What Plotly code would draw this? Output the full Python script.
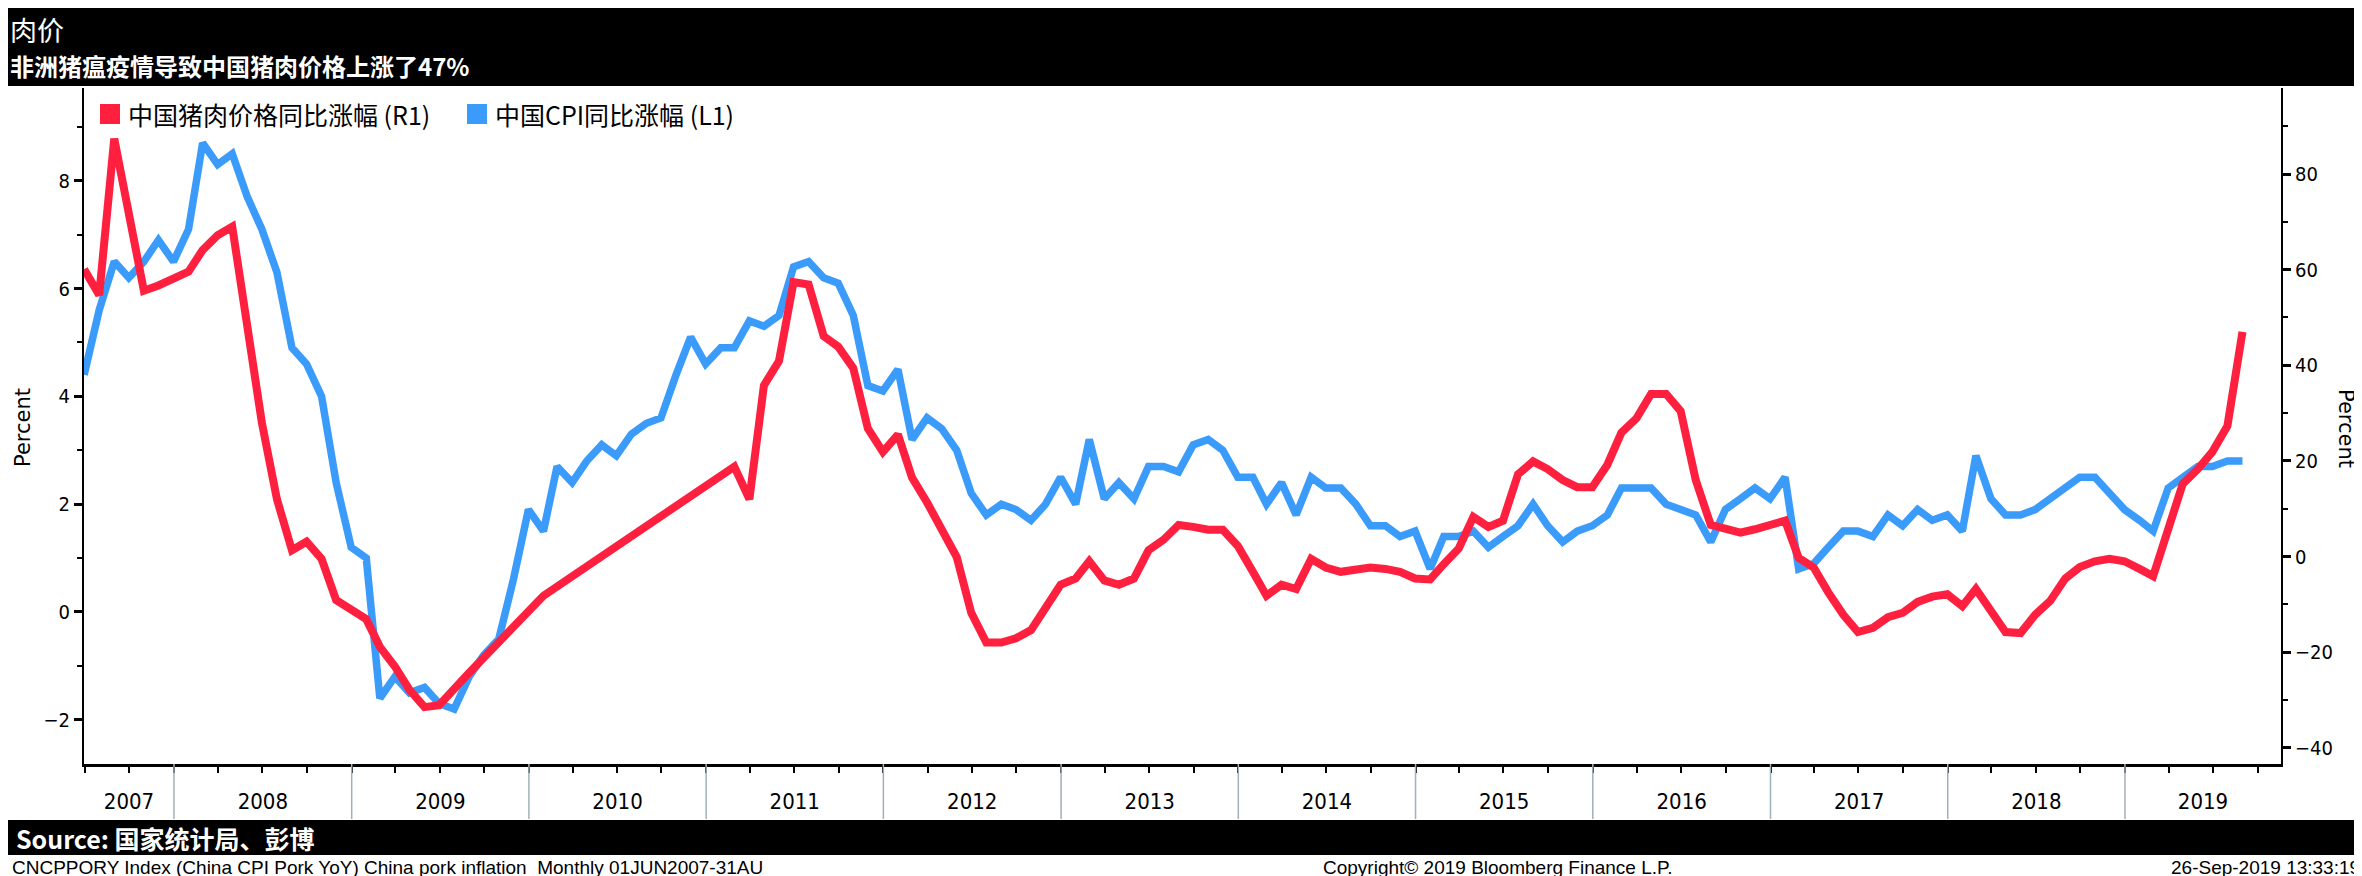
import pandas as pd
import plotly.graph_objects as go

# ---------------- data ----------------
first_month = "2007-06-01"
n_months = 147  # Jun 2007 .. Aug 2019

cpi_2007 = [4.4, 5.6, 6.5, 6.2, 6.5, 6.9, 6.5]
cpi_2008 = [7.1, 8.7, 8.3, 8.5, 7.7, 7.1, 6.3, 4.9, 4.6, 4.0, 2.4, 1.2]
cpi_2009 = [1.0, -1.6, -1.2, -1.5, -1.4, -1.7, -1.8, -1.2, -0.8, -0.5, 0.6, 1.9]
cpi_2010 = [1.5, 2.7, 2.4, 2.8, 3.1, 2.9, 3.3, 3.5, 3.6, 4.4, 5.1, 4.6]
cpi_2011 = [4.9, 4.9, 5.4, 5.3, 5.5, 6.4, 6.5, 6.2, 6.1, 5.5, 4.2, 4.1]
cpi_2012 = [4.5, 3.2, 3.6, 3.4, 3.0, 2.2, 1.8, 2.0, 1.9, 1.7, 2.0, 2.5]
cpi_2013 = [2.0, 3.2, 2.1, 2.4, 2.1, 2.7, 2.7, 2.6, 3.1, 3.2, 3.0, 2.5]
cpi_2014 = [2.5, 2.0, 2.4, 1.8, 2.5, 2.3, 2.3, 2.0, 1.6, 1.6, 1.4, 1.5]
cpi_2015 = [0.8, 1.4, 1.4, 1.5, 1.2, 1.4, 1.6, 2.0, 1.6, 1.3, 1.5, 1.6]
cpi_2016 = [1.8, 2.3, 2.3, 2.3, 2.0, 1.9, 1.8, 1.3, 1.9, 2.1, 2.3, 2.1]
cpi_2017 = [2.5, 0.8, 0.9, 1.2, 1.5, 1.5, 1.4, 1.8, 1.6, 1.9, 1.7, 1.8]
cpi_2018 = [1.5, 2.9, 2.1, 1.8, 1.8, 1.9, 2.1, 2.3, 2.5, 2.5, 2.2, 1.9]
cpi_2019 = [1.7, 1.5, 2.3, 2.5, 2.7, 2.7, 2.8, 2.8]

pork_2007 = [60.1, 54.7, 87.4, 71.0, 55.6, 56.7, 58.0]
pork_2008 = [59.6, 64.1, 67.2, 69.0, 48.0, 28.0, 12.0, 1.3, 3.1, -0.5, -9.1, -11.0]
pork_2009 = [-13.1, -18.9, -23.0, -27.9, -31.5, -31.1, -27.9, -24.3, None, None, None, None]
pork_2010 = [-8.2, None, None, None, None, None, None, None, None, None, None, None]
pork_2011 = [None, 18.8, 12.0, 35.8, 40.9, 57.4, 56.9, 46.1, 43.9, 39.4, 26.8, 21.9]
pork_2012 = [25.5, 16.5, 11.3, 6.0, -0.1, -11.8, -18.0, -18.0, -17.1, -15.4, -10.9, -5.9]
pork_2013 = [-4.6, -1.0, -5.0, -5.9, -4.6, 1.3, 3.5, 6.6, 6.2, 5.6, 5.6, 2.2]
pork_2014 = [-3.2, -8.2, -5.9, -6.8, -0.5, -2.3, -3.2, -2.8, -2.3, -2.6, -3.2, -4.6]
pork_2015 = [-4.8, -1.6, 1.7, 8.3, 6.2, 7.5, 17.2, 19.9, 18.3, 16.0, 14.5, 14.5]
pork_2016 = [19.2, 25.9, 28.9, 34.0, 34.0, 30.4, 16.0, 6.6, 5.9, 5.0, 5.7, 6.6]
pork_2017 = [7.5, -0.3, -2.3, -7.5, -12.2, -15.8, -14.9, -12.7, -11.8, -9.5, -8.4, -7.9]
pork_2018 = [-10.4, -6.8, -11.3, -15.8, -16.0, -12.2, -9.3, -4.6, -2.2, -1.0, -0.5, -1.0]
pork_2019 = [-2.6, -4.1, 5.7, 15.2, 18.3, 21.9, 27.3, 47.0]

cpi_yoy = (cpi_2007 + cpi_2008 + cpi_2009 + cpi_2010 + cpi_2011 + cpi_2012 + cpi_2013
           + cpi_2014 + cpi_2015 + cpi_2016 + cpi_2017 + cpi_2018 + cpi_2019)
pork_yoy = (pork_2007 + pork_2008 + pork_2009 + pork_2010 + pork_2011 + pork_2012 + pork_2013
            + pork_2014 + pork_2015 + pork_2016 + pork_2017 + pork_2018 + pork_2019)

pork_name = "中国猪肉价格同比涨幅 (R1)"
cpi_name = "中国CPI同比涨幅 (L1)"
year_labels = [str(y) for y in range(2007, 2020)]
left_range = [-2.82, 9.72]
right_range = [-43.4, 98.0]
x_range = ["2007-06-29 17:00", "2019-11-18 08:00"]

title_text = "肉价"
subtitle_text = "非洲猪瘟疫情导致中国猪肉价格上涨了47%"
source_text = "Source: 国家统计局、彭博"
footer_left = "CNCPPORY Index (China CPI Pork YoY) China pork inflation  Monthly 01JUN2007-31AU"
footer_mid = "Copyright© 2019 Bloomberg Finance L.P."
footer_right = "26-Sep-2019 13:33:19"

# ---------------- styling ----------------
W, H = 2362, 876
L, R, T, B = 76, 89, 80, 120
PW, PH = W - L - R, H - T - B
RED = "#FF1F3F"
BLUE = "#3A9BFA"
CJK = "Noto Sans CJK SC, sans-serif"
NARROW = "Liberation Sans Narrow, DejaVu Sans Condensed, Liberation Sans, sans-serif"
PLAIN = "Liberation Sans, Arial, sans-serif"


def px(x):
    return (x - L) / PW


def py(y):
    return (H - B - y) / PH


dates = pd.date_range(start=first_month, periods=n_months, freq="MS") + pd.offsets.MonthEnd(0)

fig = go.Figure()
fig.add_trace(go.Scatter(x=dates, y=pork_yoy, yaxis="y2", mode="lines", connectgaps=True,
                         line=dict(color=RED, width=8), showlegend=False, name=pork_name))
fig.add_trace(go.Scatter(x=dates, y=cpi_yoy, yaxis="y", mode="lines",
                         line=dict(color=BLUE, width=7.5), showlegend=False, name=cpi_name))

# year label positions: centre of visible part of each year
x0, x1 = pd.Timestamp(x_range[0]), pd.Timestamp(x_range[1])
centres = []
for lab in year_labels:
    a = max(pd.Timestamp(f"{lab}-01-01"), x0)
    b = min(pd.Timestamp(f"{int(lab) + 1}-01-01"), x1)
    centres.append(a + (b - a) / 2)

shapes = []
# title bar and source bar
shapes.append(dict(type="rect", xref="paper", yref="paper", x0=px(-5), x1=px(W + 5), y0=py(78), y1=py(-5),
                   fillcolor="black", line=dict(width=0), layer="below"))
shapes.append(dict(type="rect", xref="paper", yref="paper", x0=px(-5), x1=px(W + 5), y0=py(847), y1=py(812),
                   fillcolor="black", line=dict(width=0), layer="below"))
# year separators
for lab in year_labels[1:]:
    shapes.append(dict(type="line", xref="x", yref="paper", x0=f"{lab}-01-01", x1=f"{lab}-01-01",
                       y0=0, y1=py(811), line=dict(color="#9FB0BA", width=1.5)))
# legend swatches
shapes.append(dict(type="rect", xref="paper", yref="paper", x0=px(92), x1=px(112), y0=py(116), y1=py(96),
                   fillcolor=RED, line=dict(width=0)))
shapes.append(dict(type="rect", xref="paper", yref="paper", x0=px(459), x1=px(479), y0=py(116), y1=py(96),
                   fillcolor=BLUE, line=dict(width=0)))

annotations = [
    dict(text=title_text, x=px(0), y=py(21), xref="paper", yref="paper", xanchor="left", yanchor="middle",
         showarrow=False, font=dict(family=CJK, size=27, color="white")),
    dict(text="<b>" + subtitle_text + "</b>", x=px(0), y=py(58), xref="paper", yref="paper",
         xanchor="left", yanchor="middle", showarrow=False, font=dict(family=CJK, size=24, color="white")),
    dict(text="<b>" + source_text + "</b>", x=px(6), y=py(830), xref="paper", yref="paper",
         xanchor="left", yanchor="middle", showarrow=False, font=dict(family=CJK, size=25, color="white")),
    dict(text=footer_left, x=px(2), y=py(860), xref="paper", yref="paper", xanchor="left", yanchor="middle",
         showarrow=False, font=dict(family=PLAIN, size=19, color="black")),
    dict(text=footer_mid, x=px(1490), y=py(860), xref="paper", yref="paper", xanchor="center",
         yanchor="middle", showarrow=False, font=dict(family=PLAIN, size=19, color="black")),
    dict(text=footer_right, x=px(2354), y=py(860), xref="paper", yref="paper", xanchor="right",
         yanchor="middle", showarrow=False, font=dict(family=PLAIN, size=19, color="black")),
    dict(text="Percent", x=px(15), y=py(420), xref="paper", yref="paper", xanchor="center",
         yanchor="middle", textangle=-90, showarrow=False, font=dict(family="DejaVu Sans", size=21, color="black")),
    dict(text="Percent", x=px(2338), y=py(420), xref="paper", yref="paper", xanchor="center",
         yanchor="middle", textangle=90, showarrow=False, font=dict(family="DejaVu Sans", size=21, color="black")),
    # legend texts
    dict(text=pork_name, x=px(118), y=py(106), xref="paper", yref="paper", xanchor="left", yanchor="middle",
         showarrow=False, font=dict(family=CJK, size=25, color="black")),
    dict(text=cpi_name, x=px(485), y=py(106), xref="paper", yref="paper", xanchor="left", yanchor="middle",
         showarrow=False, font=dict(family=CJK, size=25, color="black")),
]

fig.update_layout(
    width=W, height=H,
    margin=dict(l=L, r=R, t=T, b=B, pad=0),
    paper_bgcolor="white", plot_bgcolor="white",
    showlegend=False,
    shapes=shapes, annotations=annotations,
    xaxis=dict(type="date", range=x_range, showgrid=False, zeroline=False,
               showline=True, linecolor="black", linewidth=3,
               tickmode="array", tickvals=centres, ticktext=year_labels, ticks="",
               ticklabelstandoff=16,
               tickfont=dict(family=NARROW, size=22, color="black"),
               minor=dict(ticks="outside", ticklen=6, tickwidth=2, tickcolor="black",
                          dtick="M3", tick0="2007-01-01", showgrid=False)),
    yaxis=dict(range=left_range, showgrid=False, zeroline=False,
               showline=True, linecolor="black", linewidth=2,
               tickmode="linear", tick0=0, dtick=2, ticks="outside", ticklen=8, tickwidth=3,
               tickcolor="black", tickfont=dict(family=NARROW, size=20, color="black"),
               minor=dict(ticks="outside", dtick=1, ticklen=5, tickwidth=1.5, tickcolor="black")),
    yaxis2=dict(range=right_range, overlaying="y", side="right", showgrid=False, zeroline=False,
                showline=True, linecolor="black", linewidth=2,
                tickmode="linear", tick0=0, dtick=20, ticks="outside", ticklen=8, tickwidth=3,
                tickcolor="black", tickfont=dict(family=NARROW, size=20, color="black"),
                minor=dict(ticks="outside", dtick=10, ticklen=5, tickwidth=1.5, tickcolor="black")),
)

fig.write_html("out.html")
